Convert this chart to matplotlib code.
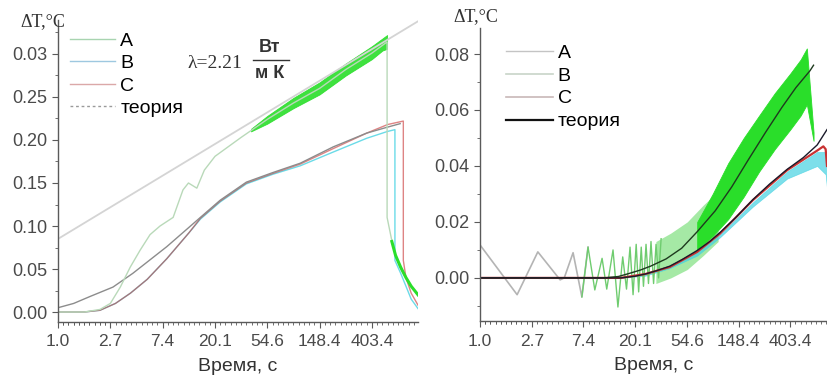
import matplotlib
matplotlib.use("Agg")
import matplotlib.pyplot as plt
from matplotlib.lines import Line2D
import numpy as np

plt.rcParams['font.family'] = ['Liberation Sans', 'DejaVu Sans']

# ---------------- data ----------------
x_tick_vals = [1.0, 2.718, 7.389, 20.09, 54.6, 148.4, 403.4]
x_tick_labels = ["1.0", "2.7", "7.4", "20.1", "54.6", "148.4", "403.4"]
left_y_ticks = [0.00, 0.05, 0.10, 0.15, 0.20, 0.25, 0.30]
left_y_labels = ["0.00", "0.05", "0.10", "0.15", "0.20", "0.25", "0.03"]
right_y_ticks = [0.00, 0.02, 0.04, 0.06, 0.08]
right_y_labels = ["0.00", "0.02", "0.04", "0.06", "0.08"]
series_names = ["A", "B", "C", "теория"]

# ---- left panel ----
L_theory_up_t = [1.0, 973.0]
L_theory_up_v = [0.085, 0.338]

L_theory_low_t = [1.0, 1.35, 1.84, 2.86, 4.18, 8.0, 15.2, 22.2, 36.6, 60.3, 102.5, 192.5, 365, 545, 692]
L_theory_low_v = [0.005, 0.010, 0.018, 0.029, 0.045, 0.076, 0.110, 0.130, 0.151, 0.162, 0.173, 0.192, 0.208, 0.215, 0.219]

L_A_t = [1.0, 1.65, 2.23, 2.72, 3.29, 3.97, 4.81, 5.81, 7.03, 9.03, 10.9, 12.1, 14.2, 16.4, 20.1,
         33.1, 54.6, 90.0, 148.4, 245, 403, 539, 539, 561, 602, 665, 735, 854, 973]
L_A_v = [0.0, 0.0, 0.003, 0.010, 0.029, 0.052, 0.072, 0.090, 0.100, 0.110, 0.142, 0.150, 0.144, 0.165, 0.181,
         0.203, 0.224, 0.243, 0.260, 0.282, 0.301, 0.314, 0.110, 0.098, 0.077, 0.058, 0.045, 0.030, 0.020]
# noisy band of A (lower / upper envelope)
L_Aband_t = [40.0, 54.6, 90.0, 148.4, 245, 403, 493, 539]
L_Aband_lo = [0.210, 0.219, 0.237, 0.253, 0.275, 0.294, 0.304, 0.306]
L_Aband_hi = [0.213, 0.228, 0.249, 0.267, 0.289, 0.309, 0.318, 0.322]
L_Adecay_t = [590, 633, 699, 773, 854, 973]
L_Adecay_v = [0.082, 0.066, 0.052, 0.040, 0.030, 0.020]

L_B_t = [1.0, 1.65, 2.23, 3.0, 4.0, 5.5, 8.0, 12.2, 15.2, 22.2, 36.6, 60.3, 102.5, 192.5, 365, 545, 626, 626,
         699, 773, 854, 973]
L_B_v = [0.0, 0.0, 0.002, 0.010, 0.022, 0.038, 0.062, 0.092, 0.108, 0.128, 0.149, 0.160, 0.170, 0.186, 0.202, 0.210, 0.212, 0.060,
         0.045, 0.030, 0.015, 0.004]
L_C_t = [1.0, 1.65, 2.23, 3.0, 4.0, 5.5, 8.0, 12.2, 15.2, 22.2, 36.6, 60.3, 102.5, 192.5, 365, 545, 735, 735,
         773, 854, 973]
L_C_v = [0.0, 0.0, 0.002, 0.010, 0.022, 0.038, 0.062, 0.092, 0.109, 0.129, 0.150, 0.161, 0.172, 0.190, 0.208, 0.218, 0.222, 0.060,
         0.040, 0.022, 0.008]

# ---- right panel ----
R_theory_up_t = [1.0, 11.0, 14.5, 17.6, 22.2, 27.1, 36.6, 49.4, 66.7, 94.6, 130, 178, 250, 344, 450, 590, 633]
R_theory_up_v = [0.0, 0.0, 0.0005, 0.0015, 0.0028, 0.0042, 0.0068, 0.0106, 0.0165, 0.024, 0.0325, 0.042, 0.052, 0.061, 0.068, 0.074, 0.076]
R_theory_low_t = [1.0, 15.2, 20.1, 24.5, 30.0, 39.3, 50.0, 66.7, 85.0, 103.5, 140, 196, 270, 380, 520, 679, 821]
R_theory_low_v = [0.0, 0.0, 0.0006, 0.0014, 0.0025, 0.0042, 0.0066, 0.0098, 0.013, 0.0162, 0.0215, 0.028, 0.0335, 0.0388, 0.043, 0.0475, 0.053]

R_A_t = [1.0, 2.05, 3.06, 4.71, 5.10, 6.05, 7.17, 8.08, 9.21, 10.6, 11.6, 13.1, 14.4, 15.8, 17.0, 18.2, 19.3, 20.5,
         21.5, 22.6, 23.6, 24.8, 26.0, 27.3, 28.7, 30.1, 31.6, 33.2]
R_A_v = [0.0118, -0.006, 0.0093, -0.0007, 0.0, 0.009, -0.0068, 0.011, -0.0043, 0.007, -0.004, 0.010, -0.0104,
         0.0075, -0.004, 0.011, -0.006, 0.012, -0.005, 0.011, -0.003, 0.012, -0.002, 0.013, -0.002, 0.012, 0.000, 0.014]
# lighter, spiky part of the A band and the dense part
R_Aspike_t = [30.0, 40.0, 55.0, 75.0, 100.0]
R_Aspike_lo = [-0.002, 0.000, 0.003, 0.008, 0.013]
R_Aspike_hi = [0.013, 0.016, 0.020, 0.026, 0.031]
R_Aband_t = [66.7, 90.0, 121.5, 164, 221, 299, 403, 493, 556, 633]
R_Aband_lo = [0.010, 0.015, 0.021, 0.029, 0.038, 0.046, 0.053, 0.058, 0.062, 0.049]
R_Aband_hi = [0.020, 0.030, 0.041, 0.050, 0.058, 0.066, 0.073, 0.078, 0.082, 0.052]

R_B_t = [1.0, 15.2, 24.5, 39.3, 66.7, 103.5, 196, 380, 679, 800, 821]
R_B_lo = [0.0, 0.0, 0.0008, 0.0035, 0.008, 0.0145, 0.0255, 0.0355, 0.040, 0.037, 0.032]
R_B_hi = [0.0, 0.0, 0.0012, 0.004, 0.009, 0.0155, 0.027, 0.038, 0.045, 0.045, 0.040]
R_C_t = [1.0, 15.2, 24.5, 39.3, 66.7, 103.5, 196, 380, 679, 765, 800, 821]
R_C_v = [0.0, 0.0, 0.0014, 0.0039, 0.0093, 0.0158, 0.0278, 0.0385, 0.0455, 0.047, 0.046, 0.040]

# ---------------- style ----------------
green_light = "#b9d9b9"
green = "#2ade2a"
cyan = "#46d2e2"
red = "#c83232"
axis_col = "#5a5a5a"
tick_col = "#4a4a4a"

fig = plt.figure(figsize=(8.27, 3.79), dpi=100)
W, H = 827.0, 379.0
ax1 = fig.add_axes([58 / W, 1 - 322 / H, (418 - 58) / W, (322 - 20) / H])
ax2 = fig.add_axes([480 / W, 1 - 321 / H, (827 - 480) / W, (321 - 28) / H])

for ax in (ax1, ax2):
    ax.set_xscale("log")
    for s in ("top", "right"):
        ax.spines[s].set_visible(False)
    for s in ("left", "bottom"):
        ax.spines[s].set_color(axis_col)
        ax.spines[s].set_linewidth(1.0)
    ax.set_xticks(x_tick_vals)
    ax.set_xticklabels(x_tick_labels)
    minor = [e * (np.e ** (j / 10.0)) for e in [1.0] + x_tick_vals for j in range(1, 10)]
    ax.set_xticks(minor, minor=True)
    ax.set_xticklabels([], minor=True)
    ax.tick_params(axis="both", which="major", direction="out", length=4, width=0.8,
                   color=axis_col, labelcolor=tick_col, labelsize=13)
    ax.tick_params(axis="x", which="major", pad=5, labelsize=12.5)
    ax.tick_params(axis="both", which="minor", direction="out", length=2.5, width=0.6, color=axis_col)
    ax.set_xlabel("Время, с", fontsize=14, color="#333333", labelpad=6)
    ax.patch.set_alpha(0)

# ---- left ----
ax1.set_xlim(1.0, 973.0)
ax1.set_ylim(-0.0116, 0.3395)
ax1.set_yticks(left_y_ticks)
ax1.set_yticklabels(left_y_labels)
ax1.set_yticks([0.025, 0.075, 0.125, 0.175, 0.225, 0.275, 0.325], minor=True)

ax1.plot(L_theory_up_t, L_theory_up_v, color="#d4d4d4", lw=1.3)
ax1.plot(L_B_t, L_B_v, color=cyan, lw=1.0, alpha=0.8)
ax1.plot(L_C_t, L_C_v, color=red, lw=1.0, alpha=0.6)
ax1.plot(L_theory_low_t, L_theory_low_v, color="#8c8c8c", lw=1.0)
ax1.plot(L_A_t, L_A_v, color=green_light, lw=1.0)
ax1.fill_between(L_Aband_t, L_Aband_lo, L_Aband_hi, color=green, lw=0.6, alpha=0.9)
ax1.plot(L_Adecay_t, L_Adecay_v, color=green, lw=2.2)

h1 = [Line2D([], [], color="#a8d4b0", lw=1.0),
      Line2D([], [], color="#9ec8e0", lw=1.0),
      Line2D([], [], color="#dba8a8", lw=1.0),
      Line2D([], [], color="#9a9a9a", lw=1.0, ls=(0, (2, 2)))]
ax1.legend(h1, series_names, loc="upper left", bbox_to_anchor=(0.033, 0.96), frameon=False,
           fontsize=14, handlelength=2.3, handletextpad=0.3, labelspacing=0.25, borderpad=0, borderaxespad=0)

# ---- right ----
ax2.set_xlim(1.0, 821.0)
ax2.set_ylim(-0.0154, 0.0893)
ax2.set_yticks(right_y_ticks)
ax2.set_yticklabels(right_y_labels)
ax2.set_yticks([-0.01, 0.01, 0.03, 0.05, 0.07], minor=True)

ax2.plot(R_A_t[:8], R_A_v[:8], color="#b4b4b4", lw=1.2)
ax2.plot(R_A_t[6:], R_A_v[6:], color="#6fcc6f", lw=1.0)
ax2.fill_between(R_Aspike_t, R_Aspike_lo, R_Aspike_hi, color="#7fe07f", lw=0, alpha=0.7)
ax2.fill_between(R_Aband_t, R_Aband_lo, R_Aband_hi, color=green, lw=0.6)
ax2.fill_between(R_B_t, R_B_lo, R_B_hi, color=cyan, lw=0.5, alpha=0.7)
ax2.plot(R_C_t, R_C_v, color=red, lw=1.6)
ax2.plot(R_theory_up_t, R_theory_up_v, color="#1e3a1e", lw=1.0)
ax2.plot(R_theory_low_t, R_theory_low_v, color="#1a1a2a", lw=1.0)

h2 = [Line2D([], [], color="#c4c4c4", lw=1.0),
      Line2D([], [], color="#c8d4c8", lw=1.2),
      Line2D([], [], color="#c8b8b8", lw=1.2),
      Line2D([], [], color="#111111", lw=1.6)]
ax2.legend(h2, series_names, loc="upper left", bbox_to_anchor=(0.075, 0.945), frameon=False,
           fontsize=14, handlelength=2.4, handletextpad=0.25, labelspacing=0.27, borderpad=0, borderaxespad=0)

# ---- texts ----
serif = ["Liberation Serif", "DejaVu Serif"]
fig.text(20 / W, 1 - 22 / H, "ΔT,°C", family=serif, fontsize=13, va="center", ha="left", color="#333333")
fig.text(453 / W, 1 - 17 / H, "ΔT,°C", family=serif, fontsize=13, va="center", ha="left", color="#333333")
fig.text(188 / W, 1 - 63 / H, "λ=2.21", family=serif, fontsize=14, va="center", ha="left", color="#333333")
fig.text(270 / W, 1 - 48 / H, "Вт", fontsize=13, va="center", ha="center", color="#333333", weight="bold")
fig.text(270 / W, 1 - 73 / H, "м К", fontsize=13, va="center", ha="center", color="#333333", weight="bold")
fig.add_artist(Line2D([253 / W, 289 / W], [1 - 60 / H, 1 - 60 / H], color="#333333", lw=1.0,
                      transform=fig.transFigure))

fig.savefig("out.png", dpi=100)
